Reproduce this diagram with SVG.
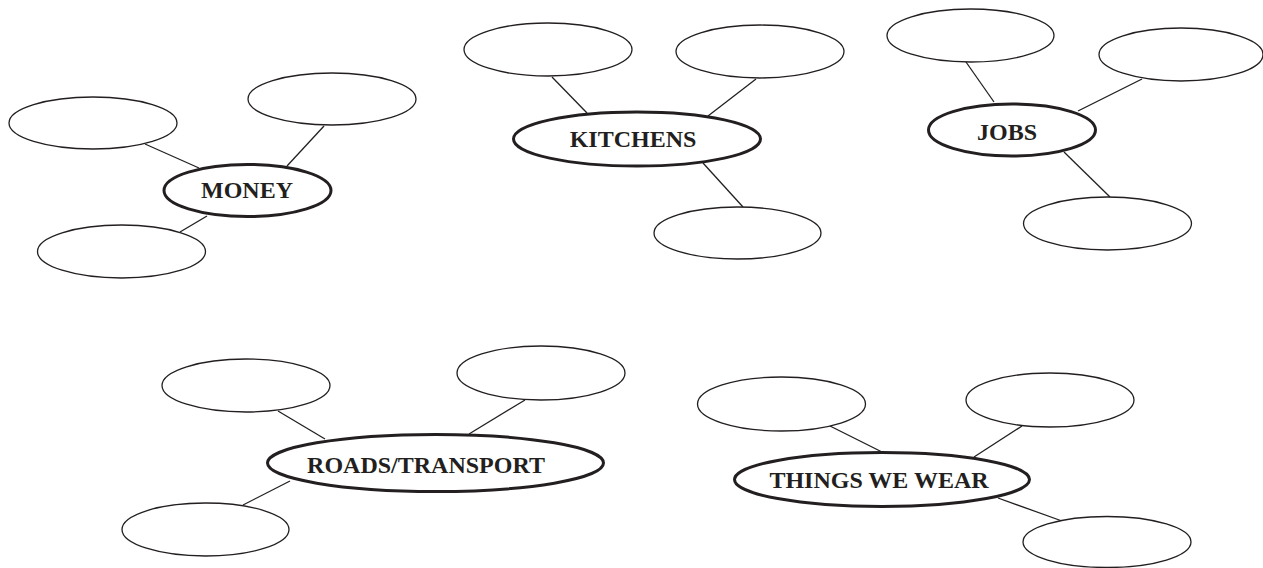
<svg xmlns="http://www.w3.org/2000/svg" width="1263" height="568" viewBox="0 0 1263 568">
<style>
.leaf{fill:#fff;stroke:#231f20;stroke-width:1.3}
.hub{fill:#fff;stroke:#231f20;stroke-width:3}
.lbl{font-family:"Liberation Serif",serif;font-weight:bold;font-size:24px;fill:#231f20;text-anchor:middle}
#connectors line{stroke:#231f20;stroke-width:1.3}
</style>
<rect width="1263" height="568" fill="#fff"/>
<g id="connectors">
<line x1="145" y1="144" x2="199" y2="168"/>
<line x1="324" y1="126" x2="287" y2="166"/>
<line x1="207" y1="216" x2="180" y2="232"/>
<line x1="552" y1="77" x2="587" y2="113"/>
<line x1="756" y1="79" x2="708" y2="116"/>
<line x1="703" y1="163" x2="743" y2="207"/>
<line x1="966" y1="62" x2="994" y2="102"/>
<line x1="1142" y1="79" x2="1078" y2="111"/>
<line x1="1064" y1="152" x2="1110" y2="197"/>
<line x1="278" y1="411" x2="325" y2="439"/>
<line x1="525" y1="400" x2="469" y2="434"/>
<line x1="290" y1="481" x2="243" y2="505"/>
<line x1="830" y1="426" x2="882" y2="452"/>
<line x1="1022" y1="426" x2="974" y2="457"/>
<line x1="998" y1="498" x2="1062" y2="521"/>
</g>
<g id="money">
<ellipse class="hub" cx="247.5" cy="190.5" rx="83.5" ry="26"/>
<text class="lbl" x="247" y="198">MONEY</text>
</g>
<g id="money-1"><ellipse class="leaf" cx="93" cy="123" rx="84" ry="26"/></g>
<g id="money-2"><ellipse class="leaf" cx="332" cy="99" rx="84" ry="26"/></g>
<g id="money-3"><ellipse class="leaf" cx="121.5" cy="251.5" rx="84" ry="26.5"/></g>
<g id="kitchens">
<ellipse class="hub" cx="637" cy="139" rx="123.5" ry="27"/>
<text class="lbl" x="633" y="147">KITCHENS</text>
</g>
<g id="kitchens-1"><ellipse class="leaf" cx="548" cy="49.5" rx="84" ry="26.5"/></g>
<g id="kitchens-2"><ellipse class="leaf" cx="760" cy="51.5" rx="84" ry="26.5"/></g>
<g id="kitchens-3"><ellipse class="leaf" cx="737.5" cy="233" rx="83.5" ry="26"/></g>
<g id="jobs">
<ellipse class="hub" cx="1012" cy="130" rx="83.5" ry="26"/>
<text class="lbl" x="1007" y="140">JOBS</text>
</g>
<g id="jobs-1"><ellipse class="leaf" cx="970.5" cy="35.5" rx="83.5" ry="26.5"/></g>
<g id="jobs-2"><ellipse class="leaf" cx="1181" cy="54.5" rx="82" ry="26.5"/></g>
<g id="jobs-3"><ellipse class="leaf" cx="1107.5" cy="223.5" rx="84" ry="26.5"/></g>
<g id="roads">
<ellipse class="hub" cx="435.5" cy="463" rx="168" ry="28.5"/>
<text class="lbl" x="426" y="473">ROADS/TRANSPORT</text>
</g>
<g id="roads-1"><ellipse class="leaf" cx="246" cy="385.5" rx="84" ry="26.5"/></g>
<g id="roads-2"><ellipse class="leaf" cx="541" cy="373" rx="84" ry="27"/></g>
<g id="roads-3"><ellipse class="leaf" cx="205.5" cy="529.5" rx="83.5" ry="26.5"/></g>
<g id="things">
<ellipse class="hub" cx="882" cy="479.5" rx="147.5" ry="27"/>
<text class="lbl" x="879" y="488">THINGS WE WEAR</text>
</g>
<g id="things-1"><ellipse class="leaf" cx="781.5" cy="404" rx="84" ry="27"/></g>
<g id="things-2"><ellipse class="leaf" cx="1050" cy="400" rx="84" ry="27"/></g>
<g id="things-3"><ellipse class="leaf" cx="1107" cy="542" rx="84" ry="25.5"/></g>
</svg>
